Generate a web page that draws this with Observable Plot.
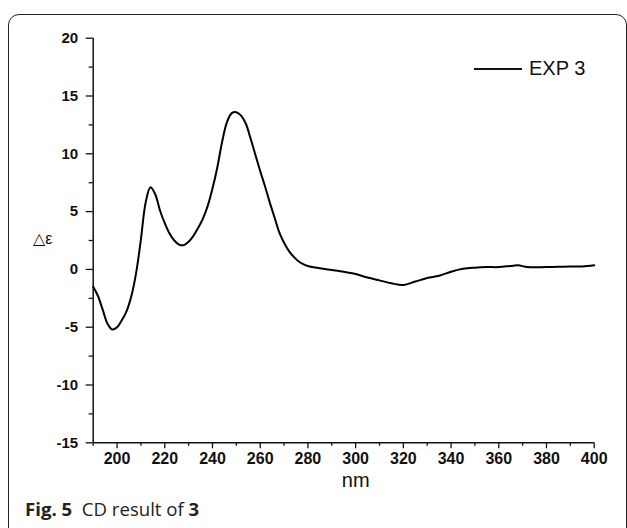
<!DOCTYPE html>
<html>
<head>
<meta charset="utf-8">
<script src="https://cdn.jsdelivr.net/npm/d3@7"></script>
<script src="https://cdn.jsdelivr.net/npm/@observablehq/plot@0.6"></script>
<style>
  html, body { margin: 0; padding: 0; background: #fff; width: 627px; height: 528px; overflow: hidden; }
  #wrap { position: relative; width: 627px; height: 528px; }
  #frame { position: absolute; left: 8px; top: 14px; width: 617px; height: 600px; border: 1.5px solid #222; border-radius: 11px; }
  #chart { position: absolute; left: 0; top: 0; }
  #legend { position: absolute; left: 474px; top: 57px; font-family: "Liberation Sans", Arial, sans-serif; font-size: 20px; color: #111; display: flex; align-items: center; }
  #legend .sw { display: inline-block; width: 48px; border-top: 2px solid #111; margin-right: 7px; }
  #caption { position: absolute; left: 25px; top: 496px; font-family: "Open Sans", sans-serif; font-size: 18.6px; color: #222; white-space: pre; }
</style>
</head>
<body>
<div id="wrap">
  <div id="frame"></div>
  <div id="chart"></div>
  <div id="legend"><span class="sw"></span><span id="legendText"></span></div>
  <div id="caption"><b>Fig. 5</b>  CD result of <b>3</b></div>
</div>
<script>
const wavelength = [190,192,194,196,198,200,202,204,206,208,210,212,214,216,218,220,222,224,226,228,230,232,234,236,238,240,242,244,246,248,250,252,254,256,258,260,262,264,266,268,270,272,274,276,278,280,285,290,295,300,305,310,315,320,325,330,335,340,345,350,355,360,365,368,372,380,390,395,400];
const deltaEps = [-1.5,-2.3,-3.5,-4.7,-5.2,-5.0,-4.4,-3.6,-2.3,-0.3,2.6,5.8,7.1,6.5,5.1,4.0,3.1,2.5,2.15,2.1,2.4,2.9,3.6,4.4,5.5,7.0,8.8,11.0,12.7,13.5,13.6,13.3,12.6,11.3,9.9,8.5,7.2,5.8,4.5,3.2,2.3,1.6,1.1,0.7,0.45,0.3,0.1,-0.05,-0.2,-0.4,-0.7,-0.95,-1.2,-1.35,-1.05,-0.75,-0.55,-0.2,0.05,0.15,0.2,0.2,0.3,0.35,0.2,0.2,0.25,0.25,0.35];
const seriesName = "EXP 3";
const xMajorTicks = [200,220,240,260,280,300,320,340,360,380,400];
const xMinorTicks = [190,210,230,250,270,290,310,330,350,370,390];
const yMajorTicks = [-15,-10,-5,0,5,10,15,20];
const yMinorTicks = [-12.5,-7.5,-2.5,2.5,7.5,12.5,17.5];
const xLabel = "nm";
const yLabel = "△ε";

const data = wavelength.map((w, i) => ({w, v: deltaEps[i]}));
const font = "Liberation Sans, Arial, sans-serif";
const fmt = d => String(d);

const chart = Plot.plot({
  width: 627,
  height: 495,
  marginLeft: 92.7,
  marginRight: 33.3,
  marginTop: 37.7,
  marginBottom: 52.7,
  style: {fontFamily: font, color: "#111", background: "transparent"},
  x: {domain: [190, 400]},
  y: {domain: [-15, 20]},
  marks: [
    Plot.axisX({ticks: xMajorTicks, tickSize: 6, text: null, label: null, strokeWidth: 1.3}),
    Plot.axisX({ticks: xMinorTicks, tickSize: 3.5, text: null, label: null, strokeWidth: 1.3}),
    Plot.axisY({ticks: yMajorTicks, tickSize: 7, text: null, label: null, strokeWidth: 1.3}),
    Plot.axisY({ticks: yMinorTicks, tickSize: 4, text: null, label: null, strokeWidth: 1.3}),
    Plot.text(xMajorTicks, {x: d => d, text: fmt, frameAnchor: "bottom", dy: 21, fontSize: 16, fontWeight: "bold", fill: "#111"}),
    Plot.text(yMajorTicks, {y: d => d, text: fmt, frameAnchor: "left", dx: -15, textAnchor: "end", fontSize: 15, fontWeight: "bold", fill: "#111"}),
    Plot.ruleX([190], {strokeWidth: 1.5}),
    Plot.ruleY([-15], {strokeWidth: 1.5}),
    Plot.line(data, {x: "w", y: "v", curve: "catmull-rom", stroke: "#000", strokeWidth: 2}),
    Plot.text([xLabel], {frameAnchor: "bottom", dx: 12, dy: 44, fontSize: 20, fill: "#111"}),
    Plot.text([yLabel], {frameAnchor: "left", dx: -60, dy: -2, fontSize: 16, textAnchor: "start", fill: "#111"})
  ]
});
document.getElementById("chart").appendChild(chart);
document.getElementById("legendText").textContent = seriesName;
</script>
</body>
</html>
